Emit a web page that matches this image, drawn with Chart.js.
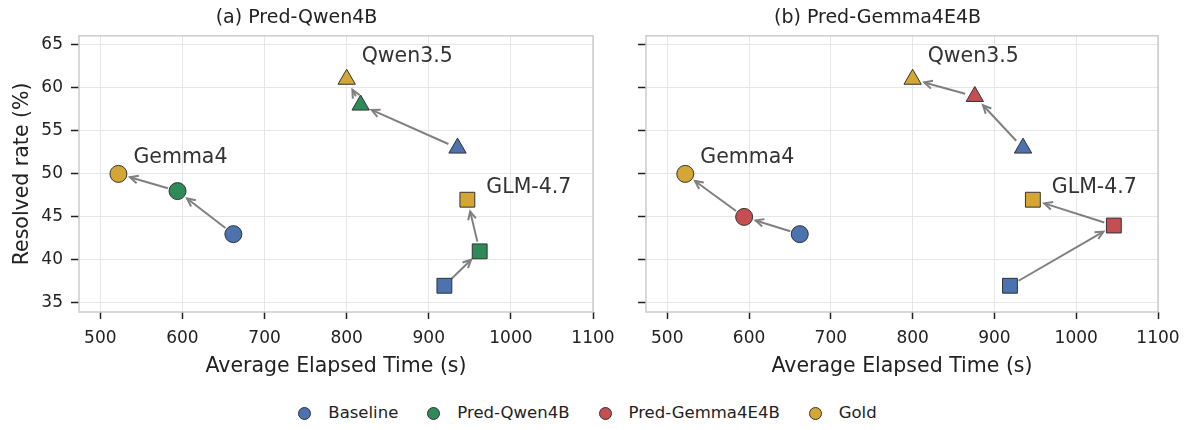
<!DOCTYPE html>
<html>
<head>
<meta charset="utf-8">
<script src="https://cdn.jsdelivr.net/npm/chart.js@4/dist/chart.umd.min.js"></script>
<style>
  body { margin: 0; background: #fff; font-family: "DejaVu Sans", sans-serif; }
  #wrap { position: relative; width: 1193px; height: 430px; }
  #wrap canvas { position: absolute; top: 0; }
  #legend { position: absolute; top: 403px; left: -9px; width: 1193px; display: flex; justify-content: center; gap: 29px; font-size: 16.5px; line-height: 20px; color: #222; }
  #legend span.item { display: flex; align-items: center; }
  #legend i { display: inline-block; width: 11px; height: 11px; border-radius: 50%; border: 1px solid #333; margin-right: 17px; }
</style>
</head>
<body>
<div id="wrap">
  <canvas id="chartA" style="left:0"></canvas>
  <canvas id="chartB" style="left:597px"></canvas>
  <div id="legend"></div>
</div>
<script>
// ---- data ----
const models = ['Gemma4', 'Qwen3.5', 'GLM-4.7'];
const shapes = ['circle', 'triangle', 'rect'];
const baseTime = [662, 935, 919];
const baseRate = [43, 53, 37];
const qwenPredTime = [594, 817, 962];
const qwenPredRate = [48, 58, 41];
const gemmaPredTime = [594, 876, 1046];
const gemmaPredRate = [45, 59, 44];
const goldTime = [522, 800, 947];
const goldRate = [50, 61, 47];
const xTicks = [500, 600, 700, 800, 900, 1000, 1100];
const yTicks = [35, 40, 45, 50, 55, 60, 65];
const legendNames = ['Baseline', 'Pred-Qwen4B', 'Pred-Gemma4E4B', 'Gold'];

// colours
const C = { base: '#4C72B0', qwen: '#2E8B57', gemma: '#C44E52', gold: '#D4A634' };
// label offsets (px) from the gold marker
const labelOff = { 'Gemma4': [15, -16], 'Qwen3.5': [15, -23], 'GLM-4.7': [19, -12] };

const pts = (xs, ys) => xs.map((x, i) => ({ x: x, y: ys[i] }));

function ds(label, xs, ys, color) {
  return {
    label: label,
    data: pts(xs, ys),
    backgroundColor: color,
    borderColor: '#333',
    borderWidth: 1,
    pointStyle: shapes,
    pointRadius: [8.5, 10, 10.5],
    pointHoverRadius: [8.5, 10, 10.5]
  };
}

// arrows baseline -> pred -> gold, plus model labels
const arrowPlugin = {
  id: 'arrows',
  beforeDatasetsDraw(chart) {
    const { ctx, scales: { x, y } } = chart;
    const d = chart.data.datasets;
    ctx.save();
    ctx.strokeStyle = '#808080';
    ctx.lineWidth = 2;
    for (let i = 0; i < models.length; i++) {
      for (let k = 0; k < 2; k++) {
        const a = d[k].data[i], b = d[k + 1].data[i];
        let x0 = x.getPixelForValue(a.x), y0 = y.getPixelForValue(a.y);
        let x1 = x.getPixelForValue(b.x), y1 = y.getPixelForValue(b.y);
        const ang = Math.atan2(y1 - y0, x1 - x0);
        const s0 = 10, s1 = 12;
        x0 += Math.cos(ang) * s0; y0 += Math.sin(ang) * s0;
        x1 -= Math.cos(ang) * s1; y1 -= Math.sin(ang) * s1;
        ctx.beginPath();
        ctx.moveTo(x0, y0); ctx.lineTo(x1, y1);
        ctx.stroke();
        const h = 9, w = 0.45;
        ctx.beginPath();
        ctx.moveTo(x1 - Math.cos(ang - w) * h, y1 - Math.sin(ang - w) * h);
        ctx.lineTo(x1, y1);
        ctx.lineTo(x1 - Math.cos(ang + w) * h, y1 - Math.sin(ang + w) * h);
        ctx.stroke();
      }
    }
    ctx.restore();
  },
  afterDatasetsDraw(chart) {
    const { ctx, scales: { x, y } } = chart;
    const gold = chart.data.datasets[2].data;
    ctx.save();
    ctx.font = '20.5px "DejaVu Sans"';
    ctx.fillStyle = '#333';
    ctx.textBaseline = 'middle';
    ctx.textAlign = 'left';
    models.forEach((m, i) => {
      const o = labelOff[m];
      ctx.fillText(m, x.getPixelForValue(gold[i].x) + o[0], y.getPixelForValue(gold[i].y) + o[1]);
    });
    ctx.restore();
  }
};

// light frame around the plot area
const framePlugin = {
  id: 'frame',
  beforeDatasetsDraw(chart) {
    const { ctx, chartArea: a } = chart;
    ctx.save();
    ctx.strokeStyle = '#cccccc';
    ctx.lineWidth = 1.5;
    ctx.strokeRect(a.left, a.top, a.right - a.left, a.bottom - a.top);
    ctx.restore();
  }
};

function makeChart(id, title, width, predLabel, predTime, predRate, predColor, showY, yWidth, padRight) {
  const cv = document.getElementById(id);
  cv.width = width; cv.height = 385;
  cv.style.width = width + 'px'; cv.style.height = '385px';
  return new Chart(cv, {
    type: 'scatter',
    data: {
      datasets: [
        ds('Baseline', baseTime, baseRate, C.base),
        ds(predLabel, predTime, predRate, predColor),
        ds('Gold', goldTime, goldRate, C.gold)
      ]
    },
    options: {
      responsive: false,
      animation: false,
      layout: { padding: { left: 0, right: padRight, top: 0, bottom: 0 } },
      plugins: {
        legend: { display: false },
        tooltip: { enabled: false },
        title: {
          display: true,
          text: title,
          color: '#222',
          font: { family: 'DejaVu Sans', size: 19, weight: 'normal' },
          padding: { top: 7, bottom: 6 }
        }
      },
      scales: {
        x: {
          type: 'linear',
          min: 474, max: 1100,
          afterBuildTicks: s => { s.ticks = xTicks.map(v => ({ value: v })); },
          afterFit: s => { s.height = 73; },
          border: { display: false },
          grid: { color: '#e6e6e6', lineWidth: 1, tickColor: '#222', tickLength: 7, tickWidth: 1.5 },
          ticks: { color: '#222', font: { family: 'DejaVu Sans', size: 17 }, padding: 9, maxRotation: 0, callback: v => String(v) },
          title: { display: true, text: 'Average Elapsed Time (s)', color: '#222', font: { family: 'DejaVu Sans', size: 20.5 }, padding: { top: 4, bottom: 6 } }
        },
        y: {
          type: 'linear',
          min: 33.95, max: 66.05,
          afterBuildTicks: s => { s.ticks = yTicks.map(v => ({ value: v })); },
          afterFit: s => { s.width = yWidth; },
          border: { display: false },
          grid: { color: '#e6e6e6', lineWidth: 1, tickColor: '#222', tickLength: 8, tickWidth: 1.5 },
          ticks: { display: showY, color: '#222', font: { family: 'DejaVu Sans', size: 17 }, padding: 8, callback: v => String(v) },
          title: { display: showY, text: 'Resolved rate (%)', color: '#222', font: { family: 'DejaVu Sans', size: 20.5 }, padding: { top: 10, bottom: 4 } }
        }
      }
    },
    plugins: [framePlugin, arrowPlugin]
  });
}

makeChart('chartA', '(a) Pred-Qwen4B', 630, 'Pred-Qwen4B', qwenPredTime, qwenPredRate, C.qwen, true, 79, 37);
makeChart('chartB', '(b) Pred-Gemma4E4B', 596, 'Pred-Gemma4E4B', gemmaPredTime, gemmaPredRate, C.gemma, false, 49, 35);

// shared legend
const legendColors = [C.base, C.qwen, C.gemma, C.gold];
const lg = document.getElementById('legend');
legendNames.forEach((n, i) => {
  const it = document.createElement('span');
  it.className = 'item';
  it.innerHTML = '<i style="background:' + legendColors[i] + '"></i>' + n;
  lg.appendChild(it);
});
</script>
</body>
</html>
